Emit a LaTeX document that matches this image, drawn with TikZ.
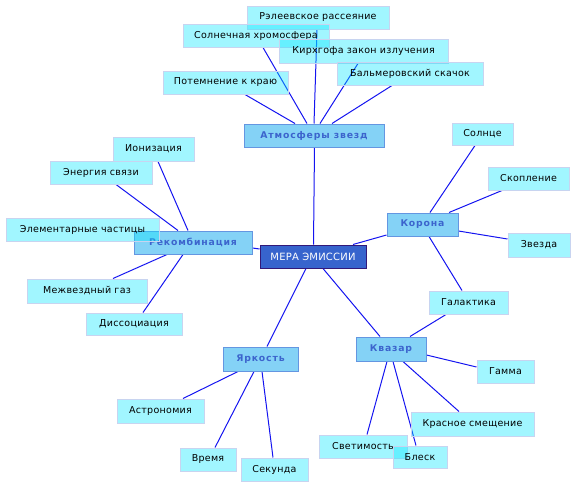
\documentclass[tikz,border=0pt]{standalone}
\usepackage{fontspec}
\setmainfont{DejaVu Sans}
\usetikzlibrary{calc}
\definecolor{leaffill}{RGB}{0,230,255}
\definecolor{leafdraw}{RGB}{200,212,240}
\definecolor{catfill}{RGB}{125,208,245}
\definecolor{catdraw}{RGB}{100,150,225}
\definecolor{cattext}{RGB}{60,100,205}
\definecolor{cenfill}{RGB}{55,100,205}
\definecolor{cendraw}{RGB}{50,25,120}
\definecolor{linkcol}{RGB}{20,20,240}
\tikzset{
  leaf/.style={draw=leafdraw, line width=1pt, fill=leaffill, fill opacity=0.37, text opacity=1, inner sep=0pt, font=\fontsize{9.5}{11}\selectfont\addfontfeature{LetterSpace=3}},
  cat/.style={draw=catdraw, line width=1pt, fill=catfill, fill opacity=0.95, text opacity=1, inner sep=0pt, text=cattext, font=\fontsize{9.3}{11}\selectfont\bfseries\addfontfeature{LetterSpace=9}},
  cen/.style={draw=cendraw, line width=1pt, fill=cenfill, inner sep=0pt, text=white, font=\fontsize{10}{12}\selectfont\addfontfeature{LetterSpace=2}},
  link/.style={draw=linkcol, line width=1pt},
}
\newcommand{\bx}[7]{\node[#1, minimum width=#5pt, minimum height=#6pt] (#2) at (#3,#4) {#7};}
\begin{document}
\begin{tikzpicture}[x=1pt,y=-1pt]
\useasboundingbox (0,0) rectangle (576,488);
\pgfdeclarelayer{bg}\pgfsetlayers{bg,main}
\bx{leaf}{ray}{318}{17.5}{142}{23}{Рэлеевское рассеяние}
\bx{leaf}{chrom}{256}{35.5}{146}{23}{Солнечная хромосфера}
\bx{leaf}{kirch}{363.5}{51}{169}{24}{Кирхгофа закон излучения}
\bx{leaf}{balm}{410}{73.5}{146}{23}{Бальмеровский скачок}
\bx{leaf}{limb}{225.5}{82.5}{125}{23}{Потемнение к краю}
\bx{cat}{atm}{314}{135.5}{140}{23}{Атмосферы звезд}
\bx{leaf}{ion}{153.5}{149}{81}{24}{Ионизация}
\bx{leaf}{bind}{101}{172.5}{102}{23}{Энергия связи}
\bx{cat}{rec}{193}{242.5}{118}{23}{Рекомбинация}
\bx{leaf}{elem}{82.5}{229.5}{153}{23}{Элементарные частицы}
\bx{leaf}{ism}{87}{291}{120}{24}{Межвездный газ}
\bx{leaf}{diss}{134}{324}{96}{22}{Диссоциация}
\bx{cen}{mera}{313}{256.5}{106}{23}{МЕРА ЭМИССИИ}
\bx{cat}{cor}{422.5}{224.5}{71}{23}{Корона}
\bx{leaf}{sun}{482.5}{134}{61}{22}{Солнце}
\bx{leaf}{clus}{528.5}{178.5}{81}{23}{Скопление}
\bx{leaf}{star}{539}{245}{62}{24}{Звезда}
\bx{leaf}{gal}{468.5}{302.5}{79}{23}{Галактика}
\bx{cat}{bright}{260.5}{359}{75}{24}{Яркость}
\bx{cat}{quas}{391}{349}{70}{24}{Квазар}
\bx{leaf}{gam}{505.5}{371.5}{57}{23}{Гамма}
\bx{leaf}{astr}{160.5}{411}{87}{24}{Астрономия}
\bx{leaf}{red}{472.5}{424}{123}{24}{Красное смещение}
\bx{leaf}{lum}{363}{446.5}{88}{23}{Светимость}
\bx{leaf}{glit}{420}{457}{54}{22}{Блеск}
\bx{leaf}{time}{208}{459.5}{56}{23}{Время}
\bx{leaf}{sec}{274.5}{469.5}{67}{23}{Секунда}
\begin{pgfonlayer}{bg}
\path[link] ([xshift=-19pt]atm.north) -- ([xshift=19.5pt]limb.south);
\path[link] ([xshift=-7pt]atm.north) -- ([xshift=7pt]chrom.south);
\path[link] (atm.north) -- ([xshift=-1pt]ray.south);
\path[link] ([xshift=6pt]atm.north) -- ([xshift=-5.5pt]kirch.south);
\path[link] ([xshift=18pt]atm.north) -- ([xshift=-18pt]balm.south);
\path[link] ([xshift=0.5pt]atm.south) -- ([xshift=0.5pt]mera.north);
\path[link] ([xshift=-5pt]rec.north) -- ([xshift=4.5pt]ion.south);
\path[link] ([xshift=-15pt]rec.north) -- ([xshift=15pt]bind.south);
\path[link] ([xshift=-26pt]rec.south) -- ([xshift=26pt]ism.north);
\path[link] ([xshift=-10pt]rec.south) -- ([xshift=9pt]diss.north);
\path[link] ([yshift=-5.5pt]rec.east) -- ([yshift=7.5pt]mera.west);
\path[link] ([xshift=40pt]mera.north) -- ([yshift=-10.5pt]cor.west);
\path[link] ([xshift=7.5pt]cor.north) -- ([xshift=-7.5pt]sun.south);
\path[link] ([xshift=26.5pt]cor.north) -- ([xshift=-26.5pt]clus.south);
\path[link] ([yshift=-6.5pt]cor.east) -- ([yshift=6pt]star.west);
\path[link] ([xshift=6.5pt]cor.south) -- ([xshift=-6.5pt]gal.north);
\path[link] ([xshift=-7pt]mera.south) -- ([xshift=6.5pt]bright.north);
\path[link] ([xshift=10pt]mera.south) -- ([xshift=-11pt]quas.north);
\path[link] ([xshift=-22.5pt]gal.south) -- ([xshift=19pt]quas.north);
\path[link] ([xshift=-22.5pt]bright.south) -- ([xshift=22.5pt]astr.north);
\path[link] ([xshift=-6.5pt]bright.south) -- ([xshift=7pt]time.north);
\path[link] ([xshift=1.5pt]bright.south) -- ([xshift=-1.5pt]sec.north);
\path[link] ([yshift=-6pt]quas.east) -- ([yshift=4.5pt]gam.west);
\path[link] ([xshift=12pt]quas.south) -- ([xshift=-13.5pt]red.north);
\path[link] ([xshift=-4pt]quas.south) -- ([xshift=4pt]lum.north);
\path[link] ([xshift=2pt]quas.south) -- ([xshift=-4pt]glit.north);
\end{pgfonlayer}
\end{tikzpicture}
\end{document}
